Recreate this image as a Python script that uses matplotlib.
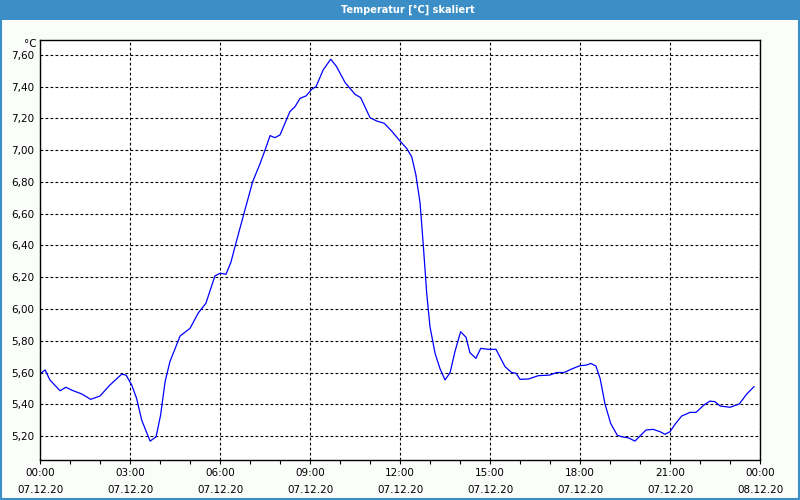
import matplotlib
matplotlib.use("Agg")
import matplotlib.pyplot as plt
from matplotlib.patches import Rectangle

# hours since 07.12.20 00:00 and temperature in degC
hours = [0.0, 0.06, 0.17, 0.33, 0.67, 0.86, 1.11, 1.39, 1.69, 2.0, 2.33, 2.72, 2.87,
         3.06, 3.22, 3.39, 3.67, 3.87, 4.02, 4.17, 4.33, 4.67, 5.0, 5.28, 5.53, 5.83,
         6.0, 6.2, 6.36, 6.56, 6.83, 7.09, 7.33, 7.5, 7.67, 7.83, 8.0, 8.33, 8.5, 8.67,
         8.87, 9.06, 9.2, 9.44, 9.69, 9.87, 10.17, 10.5, 10.69, 11.0, 11.22, 11.47,
         11.72, 11.98, 12.22, 12.39, 12.53, 12.67, 12.78, 12.89, 13.0, 13.17, 13.33,
         13.5, 13.67, 13.83, 14.02, 14.2, 14.33, 14.53, 14.69, 14.94, 15.2, 15.5,
         15.72, 15.87, 16.0, 16.28, 16.61, 17.0, 17.22, 17.47, 17.72, 18.0, 18.22,
         18.36, 18.53, 18.67, 18.83, 19.02, 19.24, 19.39, 19.61, 19.83, 20.0, 20.2,
         20.44, 20.67, 20.83, 21.0, 21.17, 21.39, 21.67, 21.87, 22.11, 22.33, 22.5,
         22.67, 23.0, 23.31, 23.56, 23.8]
temps = [5.59, 5.60, 5.616, 5.553, 5.485, 5.507, 5.485, 5.465, 5.431, 5.452, 5.521,
         5.589, 5.584, 5.52, 5.437, 5.30, 5.168, 5.195, 5.332, 5.542, 5.668, 5.83,
         5.878, 5.976, 6.036, 6.208, 6.225, 6.219, 6.292, 6.435, 6.623, 6.802, 6.913,
         7.0, 7.092, 7.079, 7.096, 7.243, 7.274, 7.327, 7.342, 7.384, 7.40, 7.506,
         7.573, 7.531, 7.426, 7.352, 7.331, 7.205, 7.184, 7.170, 7.121, 7.062, 7.012,
         6.959, 6.844, 6.666, 6.392, 6.099, 5.888, 5.72, 5.626, 5.553, 5.599, 5.731,
         5.857, 5.822, 5.725, 5.689, 5.752, 5.746, 5.746, 5.637, 5.60, 5.595, 5.557,
         5.559, 5.580, 5.584, 5.60, 5.60, 5.622, 5.643, 5.647, 5.657, 5.641, 5.563,
         5.405, 5.28, 5.206, 5.195, 5.189, 5.168, 5.2, 5.238, 5.242, 5.227, 5.211,
         5.227, 5.275, 5.326, 5.349, 5.349, 5.392, 5.42, 5.416, 5.389, 5.381, 5.402,
         5.465, 5.511]

x_ticks = [0, 3, 6, 9, 12, 15, 18, 21, 24]
x_labels = ["00:00\n07.12.20", "03:00\n07.12.20", "06:00\n07.12.20", "09:00\n07.12.20",
            "12:00\n07.12.20", "15:00\n07.12.20", "18:00\n07.12.20", "21:00\n07.12.20",
            "00:00\n08.12.20"]
y_ticks = [5.2, 5.4, 5.6, 5.8, 6.0, 6.2, 6.4, 6.6, 6.8, 7.0, 7.2, 7.4, 7.6]
y_labels = ["5,20", "5,40", "5,60", "5,80", "6,00", "6,20", "6,40", "6,60", "6,80",
            "7,00", "7,20", "7,40", "7,60"]

plt.rcParams['font.family'] = ['DejaVu Sans']
fig = plt.figure(figsize=(8, 5), dpi=100, facecolor='#fbfdfb')

# title bar and window frame
fig.patches.append(Rectangle((0, 0.96), 1, 0.04, transform=fig.transFigure,
                             facecolor='#3c8fc6', edgecolor='none', zorder=0))
fig.patches.append(Rectangle((0.001, 0.002), 0.998, 0.997, transform=fig.transFigure,
                             facecolor='none', edgecolor='#3c8fc6', linewidth=1.5, zorder=5))
fig.text(0.51, 0.981, "Temperatur [°C] skaliert", color='white', fontsize=7,
         fontweight='bold', ha='center', va='center')

ax = fig.add_axes([0.05, 0.08, 0.9, 0.84])
ax.set_facecolor('white')
ax.plot(hours, temps, color='#0000ff', linewidth=0.9)

ax.set_xlim(0, 24)
ax.set_ylim(5.049, 7.694)
ax.set_xticks(x_ticks)
ax.set_xticklabels(x_labels, fontsize=7.5, linespacing=1.85)
ax.set_xticks(range(25), minor=True)
ax.set_yticks(y_ticks)
ax.set_yticklabels(y_labels, fontsize=7.5)
ax.tick_params(axis='x', which='both', direction='out', length=3, width=0.8, pad=3)
ax.tick_params(axis='y', length=0, pad=4)
ax.grid(True, which='major', color='black', linestyle=(0, (2.5, 2.0)), linewidth=0.8)
for s in ax.spines.values():
    s.set_linewidth(1.0)
    s.set_color('black')

fig.text(0.046, 0.912, "°C", fontsize=7.5, ha='right', va='center')

fig.savefig("out.png", dpi=100, facecolor=fig.get_facecolor())
